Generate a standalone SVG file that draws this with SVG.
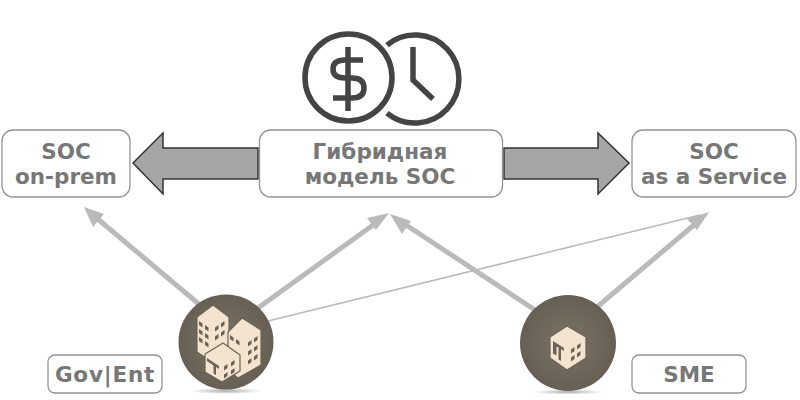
<svg xmlns="http://www.w3.org/2000/svg" width="800" height="400" viewBox="0 0 800 400">
<style>
.box{fill:#fff;stroke:#949494;stroke-width:1.3}
.lbl{font-family:"DejaVu Sans",Verdana,sans-serif;font-weight:700;font-size:21.500px;fill:#777;text-anchor:middle}
.big{fill:#a6a6a6;stroke:#333;stroke-width:1.5;stroke-linejoin:miter}
.con{stroke:#bababa;stroke-width:5;fill:none}
.tip{fill:#bababa}
.ico{fill:none;stroke:#444;stroke-width:5.500}
.bld{fill:#f4e4cf;stroke:#6b6257;stroke-width:1.200;stroke-linejoin:round}
.win{fill:#6b6257}
</style>
<defs>
<radialGradient id="disc"><stop offset="0" stop-color="#7d7467"/><stop offset="1" stop-color="#685f54"/></radialGradient>
<radialGradient id="shade"><stop offset="0" stop-color="#888" stop-opacity=".7"/><stop offset="1" stop-color="#888" stop-opacity="0"/></radialGradient>
<path id="wl" d="M0 0l3.500 2.500v4l-3.500-2.500z"/>
<path id="wr" d="M0 2.500l3.500-2.500v4l-3.500 2.500z"/>
</defs>
<g id="connectors">
<path class="con" d="M200 305L93 215"/>
<path class="tip" d="M84 207L104 214L93 227z"/>
<path class="con" d="M258 308L380 220"/>
<path class="tip" d="M389 213L376 230L367 218z"/>
<path class="con" d="M535 310L400 221"/>
<path class="tip" d="M390 214L411 221L402 234z"/>
<path class="con" d="M597 307L701 219"/>
<path class="tip" d="M709 212L697 230L687 219z"/>
<path d="M268 321L700 215" stroke="#bababa" stroke-width="1.500" fill="none"/>
</g>
<g id="icon">
<circle class="ico" cx="348.500" cy="77.500" r="43.500"/>
<path class="ico" d="M387 45A44 44 0 1 1 387 113"/>
<path class="ico" d="M413 47V80L433 99"/>
<path class="ico" d="M348 47V111M363 60H345Q333 60 333 69Q333 78 345 78H352Q364 78 364 88Q364 98 352 98H333"/>
</g>
<g id="arrow-left"><path class="big" d="M133 163L163 133V148H258V179H163V194z"/></g>
<g id="arrow-right"><path class="big" d="M504 148H598V133L629 163L598 194V179H504z"/></g>
<g id="node-onprem">
<rect class="box" x="2" y="130" width="128" height="67" rx="11"/>
<text class="lbl" x="66" y="159">SOC</text>
<text class="lbl" x="66" y="184">on-prem</text>
</g>
<g id="node-hybrid">
<rect class="box" x="259.500" y="130" width="243" height="67" rx="11"/>
<text class="lbl" x="380" y="159">Гибридная</text>
<text class="lbl" x="380" y="184">модель SOC</text>
</g>
<g id="node-saas">
<rect class="box" x="632" y="130" width="164" height="67" rx="11"/>
<text class="lbl" x="714" y="159">SOC</text>
<text class="lbl" x="714" y="184">as a Service</text>
</g>
<g id="node-gov">
<ellipse cx="226" cy="391" rx="36" ry="3" fill="url(#shade)"/>
<circle cx="226" cy="342" r="47.500" fill="url(#disc)"/>
<path class="bld" d="M213 305L229 317V345L212 362L197 352V317z"/>
<g class="win">
<use href="#wl" x="199" y="321"/><use href="#wl" x="205" y="325"/>
<use href="#wl" x="199" y="329"/><use href="#wl" x="205" y="333"/>
<use href="#wl" x="199" y="337"/><use href="#wl" x="205" y="341"/>
<use href="#wr" x="215" y="325"/><use href="#wr" x="221" y="321"/>
<use href="#wr" x="215" y="334"/><use href="#wr" x="221" y="330"/>
</g>
<path class="bld" d="M242 318L261 330V365L238 378L228 370V332z"/>
<g class="win">
<use href="#wl" x="230" y="335"/><use href="#wl" x="236" y="339"/>
<use href="#wr" x="248" y="340"/><use href="#wr" x="254" y="336"/>
<use href="#wr" x="248" y="349"/><use href="#wr" x="254" y="345"/>
<use href="#wr" x="248" y="358"/><use href="#wr" x="254" y="354"/>
</g>
<path class="bld" d="M223 343L240 355V371L222 382L205 372V354z"/>
<g class="win">
<path d="M207 358l12 8v3l-3-2v8l-2.500-1.500v-8l-6.500-4.500z"/>
<use href="#wr" x="224" y="364"/><use href="#wr" x="231" y="360"/>
<use href="#wr" x="224" y="372"/><use href="#wr" x="231" y="368"/>
</g>
</g>
<g id="node-sme">
<ellipse cx="568" cy="392" rx="36" ry="2.500" fill="url(#shade)"/>
<circle cx="568" cy="343" r="48" fill="url(#disc)"/>
<path class="bld" d="M567 326L586 337V358L567 370L550 358V337z"/>
<g class="win">
<path d="M553 341l11 7v3l-3-2v12l-2.500-1.500v-12l-2-1v9l-3.500-2z"/>
<use href="#wr" x="571" y="347"/><use href="#wr" x="577" y="343"/>
<use href="#wr" x="571" y="355"/><use href="#wr" x="577" y="351"/>
</g>
</g>
<g id="label-gov">
<rect class="box" x="48" y="355" width="114" height="38" rx="7"/>
<text class="lbl" x="105" y="382" style="letter-spacing:.8px">Gov|Ent</text>
</g>
<g id="label-sme">
<rect class="box" x="632" y="355" width="114" height="38" rx="7"/>
<text class="lbl" x="689" y="382">SME</text>
</g>
</svg>
